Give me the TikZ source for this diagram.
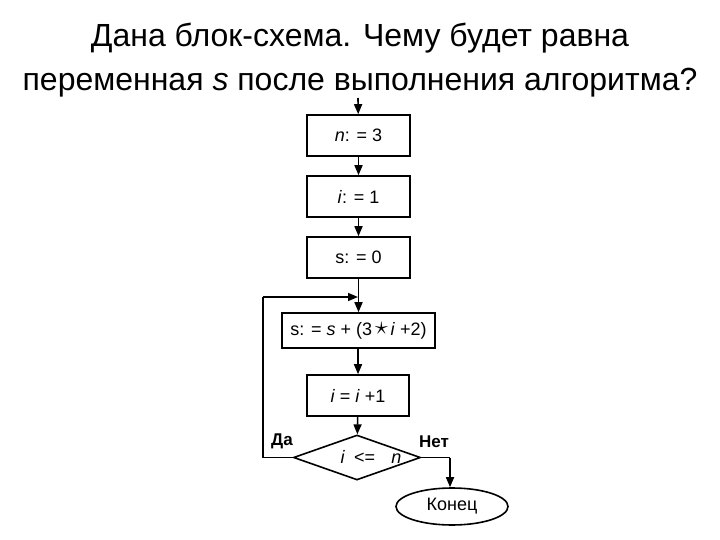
\documentclass[tikz,border=0pt]{standalone}
\usepackage{fontspec}
\setmainfont{Liberation Sans}
\usetikzlibrary{shapes.geometric,arrows.meta}
\begin{document}
\begin{tikzpicture}[x=1pt,y=-1pt,
  ln/.style={line width=1.6pt,black},
  arr/.style={ln,-{Triangle[length=10pt,width=8pt]}},
  blk/.style={draw,ln,rectangle,minimum height=41pt,inner sep=0pt,font=\fontsize{18}{20}\selectfont},
  lbl/.style={font=\fontsize{17}{19}\selectfont\bfseries},
  ttl/.style={font=\fontsize{32}{38}\selectfont}]
\useasboundingbox (0,0) rectangle (720,540);
\node[ttl] (t1) at (360,38) {Дана блок-схема. Чему будет равна};
\node[ttl] (t2) at (360,83) {переменная \textit{s} после выполнения алгоритма?};
\coordinate (start) at (358,98);
\node[blk,minimum width=103pt] (b1) at (358.5,135.5) {\textit{n}: = 3};
\node[blk,minimum width=103pt] (b2) at (358.5,196.5) {\textit{i}: = 1};
\node[blk,minimum width=103pt] (b3) at (358.5,257.5) {s: = 0};
\node[blk,minimum width=153pt,minimum height=35pt] (b4) at (358.5,330.5) {s: = \textit{s} + (3\,\raisebox{0.5pt}{\scalebox{1.5}{$\star$}}\,\textit{i} +2)};
\node[blk,minimum width=102pt] (b5) at (358,395.5) {\textit{i} = \textit{i} +1};
\node[draw,ln,diamond,aspect=2.8,minimum width=127pt,minimum height=45pt,inner sep=0pt] (d) at (357,457.5) {};
\node[font=\fontsize{18}{20}\selectfont] (dt) at (371,457) {\textit{i}\hspace{0.5em}<=\hspace{0.9em}\textit{n}};
\node[draw,ln,ellipse,minimum width=112pt,minimum height=37pt,inner sep=0pt,font=\fontsize{18}{20}\selectfont] (e) at (452,506.5) {Конец};
\node[lbl] (da) at (282,441) {Да};
\node[lbl] (net) at (434,442) {Нет};
\coordinate (join) at (358,297);
\coordinate (yl) at (263,457.5);
\coordinate (yt) at (263,297);
\coordinate (nr) at (450,457.5);
\draw[arr] (start) -- (b1);
\draw[arr] (b1) -- (b2);
\draw[arr] (b2) -- (b3);
\draw[arr] (b3) -- (b4);
\draw[arr] (b4.south -| b5.north) -- (b5);
\draw[arr] (b5) -- (d);
\draw[ln] (d.west) -- (yl) -- (yt);
\draw[arr] (yt) -- (join);
\draw[ln] (d.east) -- (nr);
\draw[arr] (nr) -- (e.north -| nr);
\end{tikzpicture}
\end{document}
